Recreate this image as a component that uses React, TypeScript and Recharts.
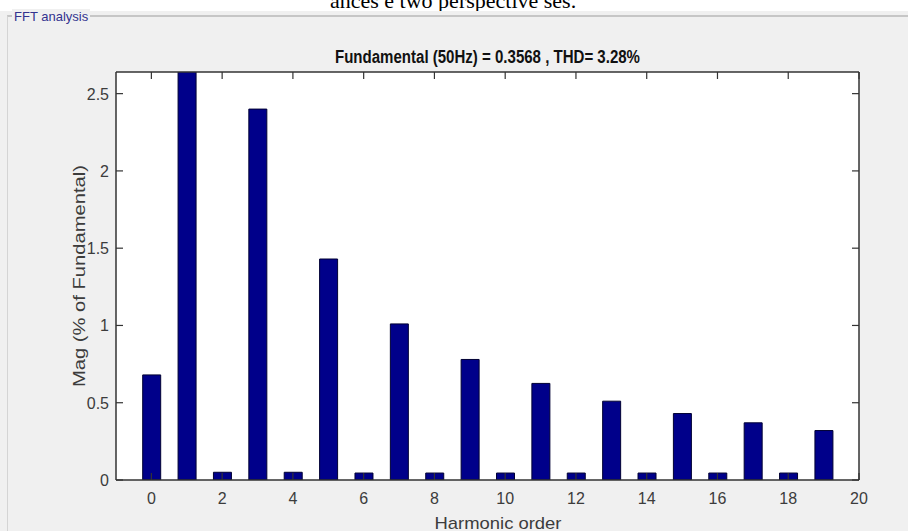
import React from 'react';
import { BarChart, Bar, XAxis, YAxis, CartesianGrid } from 'recharts';

// harmonic order and magnitude (% of fundamental)
const harmonics = [0, 1, 2, 3, 4, 5, 6, 7, 8, 9, 10, 11, 12, 13, 14, 15, 16, 17, 18, 19];
const mags = [0.68, 2.8, 0.05, 2.4, 0.05, 1.43, 0.045, 1.01, 0.045, 0.78, 0.045, 0.625, 0.045, 0.51, 0.045, 0.43, 0.045, 0.37, 0.045, 0.32];
const xTicks = [0, 2, 4, 6, 8, 10, 12, 14, 16, 18, 20];
const yTicks = [0, 0.5, 1, 1.5, 2, 2.5];

const FONT = "'Liberation Sans Narrow', 'Liberation Sans', Arial, sans-serif";
const AXIS = '#333333';
const TXT = '#3c3c3c';

const BottomTick = (props: any) => {
  const { x, y, payload } = props;
  return (
    <g>
      <line x1={x} y1={y} x2={x} y2={y - 7} stroke={AXIS} strokeWidth={1.2} />
      <text x={x} y={y + 24} textAnchor="middle" fill={TXT} fontSize={16} fontFamily={FONT}>
        {payload.value}
      </text>
    </g>
  );
};

const TopTick = (props: any) => {
  const { x, y } = props;
  return <line x1={x} y1={y} x2={x} y2={y + 7} stroke={AXIS} strokeWidth={1.2} />;
};

const LeftTick = (props: any) => {
  const { x, y, payload } = props;
  return (
    <g>
      <line x1={x} y1={y} x2={x + 7} y2={y} stroke={AXIS} strokeWidth={1.2} />
      <text x={x - 7} y={y + 6} textAnchor="end" fill={TXT} fontSize={16} fontFamily={FONT}>
        {payload.value}
      </text>
    </g>
  );
};

const RightTick = (props: any) => {
  const { x, y } = props;
  return <line x1={x} y1={y} x2={x - 7} y2={y} stroke={AXIS} strokeWidth={1.2} />;
};

export default function App() {
  const data = harmonics.map((h, i) => ({ h, mag: mags[i] }));

  return (
    <div style={{ position: 'absolute', left: 0, top: 0, width: 908, height: 531, background: '#f0f0f0', overflow: 'hidden' }}>
      <div style={{ position: 'absolute', left: 0, top: 0, width: 908, height: 11, background: '#ffffff', overflow: 'hidden' }}>
        <div style={{ position: 'absolute', left: 330, top: -12, fontFamily: "'Liberation Serif', serif", fontSize: 22, color: '#000', whiteSpace: 'nowrap' }}>
          ances e two perspective ses.
        </div>
      </div>
      <div style={{ position: 'absolute', left: 7, top: 15, width: 920, height: 540, borderTop: '2px solid #c6c6c6', borderLeft: '1px solid #d4d4d4' }} />
      <div style={{ position: 'absolute', left: 12, top: 9, padding: '0 2px', background: '#f0f0f0', color: '#33338f', fontFamily: FONT, fontSize: 13 }}>
        FFT analysis
      </div>

      <div style={{ position: 'absolute', left: 0, top: 0 }}>
        <BarChart width={908} height={531} data={data} margin={{ top: 71, right: 48, bottom: 21, left: 76 }}>
          <CartesianGrid fill="#ffffff" horizontal={false} vertical={false} />
          <XAxis
            dataKey="h"
            type="number"
            domain={[-1, 20]}
            ticks={xTicks}
            interval={0}
            height={30}
            tickSize={0}
            tickMargin={0}
            tick={BottomTick}
            axisLine={{ stroke: AXIS, strokeWidth: 1.5 }}
          />
          <XAxis
            xAxisId="top"
            orientation="top"
            dataKey="h"
            type="number"
            domain={[-1, 20]}
            ticks={xTicks}
            interval={0}
            height={1}
            tickSize={0}
            tickMargin={0}
            tick={TopTick}
            axisLine={{ stroke: AXIS, strokeWidth: 1.5 }}
          />
          <YAxis
            type="number"
            domain={[0, 2.64]}
            allowDataOverflow
            ticks={yTicks}
            interval={0}
            width={40}
            tickSize={0}
            tickMargin={0}
            tick={LeftTick}
            axisLine={{ stroke: AXIS, strokeWidth: 1.5 }}
          />
          <YAxis
            yAxisId="right"
            orientation="right"
            type="number"
            domain={[0, 2.64]}
            allowDataOverflow
            ticks={yTicks}
            interval={0}
            width={1}
            tickSize={0}
            tickMargin={0}
            tick={RightTick}
            axisLine={{ stroke: AXIS, strokeWidth: 1.5 }}
          />
          <Bar dataKey="mag" barSize={18} fill="#00008a" stroke="#000033" strokeWidth={1} isAnimationActive={false} />
        </BarChart>
      </div>

      <svg width={908} height={531} style={{ position: 'absolute', left: 0, top: 0, pointerEvents: 'none' }}>
        <text x={487.5} y={63} textAnchor="middle" fontFamily={FONT} fontWeight="bold" fontSize={18} fill="#111" textLength={305} lengthAdjust="spacingAndGlyphs">
          Fundamental (50Hz) = 0.3568 , THD= 3.28%
        </text>
        <text x={0} y={0} transform="translate(85 276) rotate(-90)" textAnchor="middle" fontFamily={FONT} fontSize={17} fill={TXT} textLength={222} lengthAdjust="spacingAndGlyphs">
          Mag (% of Fundamental)
        </text>
        <text x={498} y={529} textAnchor="middle" fontFamily={FONT} fontSize={17} fill={TXT} textLength={127} lengthAdjust="spacingAndGlyphs">
          Harmonic order
        </text>
      </svg>
    </div>
  );
}
